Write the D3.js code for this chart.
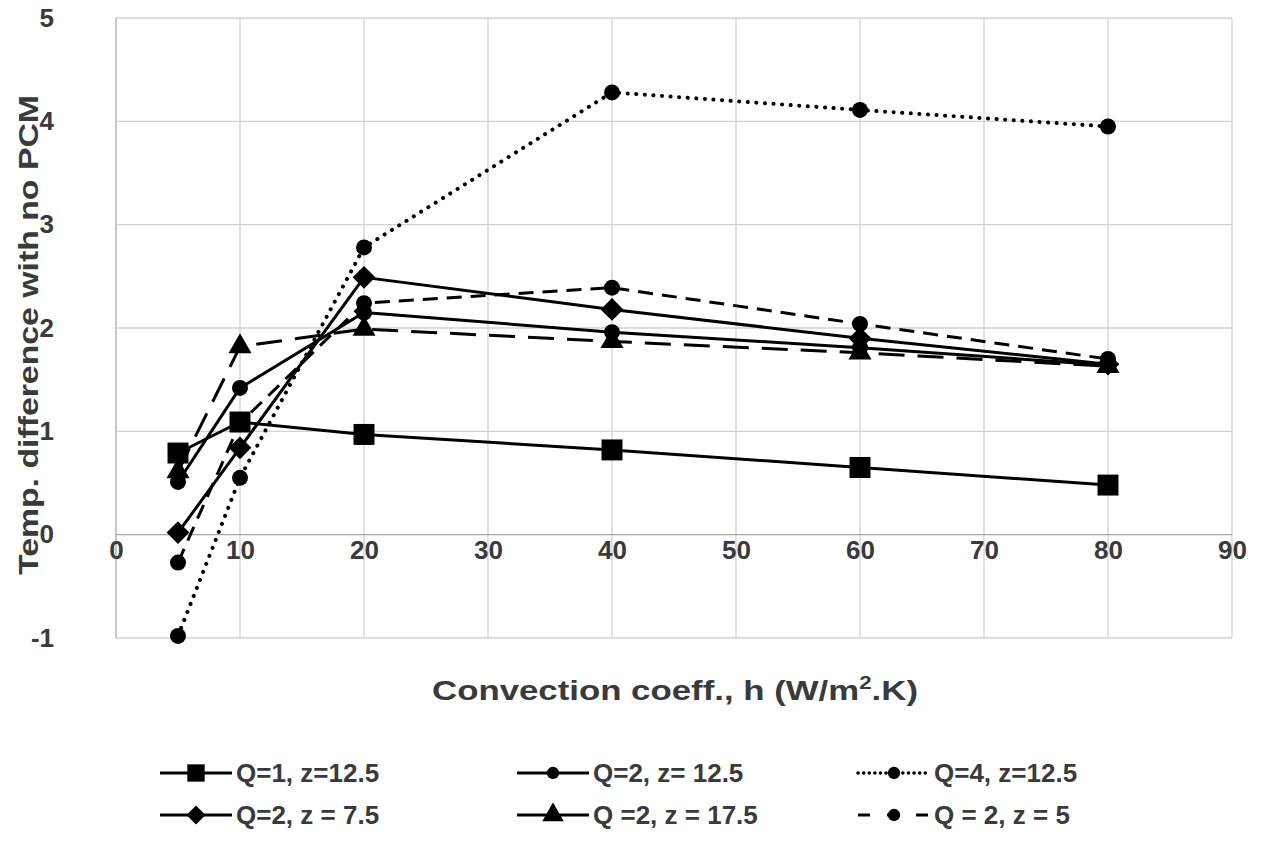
<!DOCTYPE html>
<html>
<head>
<meta charset="utf-8">
<script src="https://cdn.jsdelivr.net/npm/d3@7"></script>
<style>
  html, body { margin: 0; padding: 0; background: #ffffff; }
  svg { display: block; font-family: "Liberation Sans", Arial, sans-serif; }
</style>
</head>
<body>
<svg id="chart" width="1262" height="842"></svg>
<script>
// ---- data ----
const hValues = [5, 10, 20, 40, 60, 80];
const xTickValues = [0, 10, 20, 30, 40, 50, 60, 70, 80, 90];
const yTickValues = [-1, 0, 1, 2, 3, 4, 5];
const seriesNames = ["Q=1, z=12.5", "Q=2, z= 12.5", "Q=4, z=12.5", "Q=2, z = 7.5", "Q =2, z = 17.5", "Q = 2, z = 5"];
const q1z125 = [0.79, 1.09, 0.97, 0.82, 0.65, 0.48];
const q2z125 = [0.51, 1.42, 2.15, 1.96, 1.81, 1.64];
const q4z125 = [-0.98, 0.55, 2.78, 4.28, 4.11, 3.95];
const q2z75 = [0.02, 0.84, 2.49, 2.18, 1.90, 1.65];
const q2z175 = [0.61, 1.82, 1.99, 1.87, 1.76, 1.63];
const q2z5 = [-0.27, 1.08, 2.24, 2.39, 2.04, 1.70];
const xTitle = "Convection coeff., h (W/m";
const yTitle = "Temp. difference with no PCM";

(function () {
// ---- styles ----
const styles = [
  { values: q1z125, marker: "square", dash: null, legendDash: null },
  { values: q2z125, marker: "circle", dash: null, legendDash: null },
  { values: q4z125, marker: "circle", dash: "0.1 8.5", legendDash: "0.1 5.5", cap: "round", width: 4 },
  { values: q2z75, marker: "diamond", dash: null, legendDash: null },
  { values: q2z175, marker: "triangle", dash: "26 13", legendDash: null },
  { values: q2z5, marker: "circle", dash: "15 9", legendDash: "12 17" }
];

const svg = d3.select("#chart");
const pL = 116, pR = 1232, pT = 18, pB = 638;

const x = d3.scaleLinear().domain([0, 90]).range([pL, pR]);
const y = d3.scaleLinear().domain([-1, 5]).range([pB, pT]);

const gridColor = "#d2d2d2";
const textColor = "#3a3a3a";

// gridlines
svg.append("g").selectAll("line").data(xTickValues).join("line")
  .attr("x1", d => x(d)).attr("x2", d => x(d))
  .attr("y1", pT).attr("y2", pB)
  .attr("stroke", d => d === 0 ? "#a8a8a8" : gridColor).attr("stroke-width", 1.3);
svg.append("g").selectAll("line").data(yTickValues).join("line")
  .attr("x1", pL).attr("x2", pR)
  .attr("y1", d => y(d)).attr("y2", d => y(d))
  .attr("stroke", d => d === 0 ? "#a8a8a8" : gridColor).attr("stroke-width", 1.3);

// x tick labels at y=0 crossing
const xAxis = d3.axisBottom(x).tickValues(xTickValues).tickFormat(d => String(d)).tickSize(0).tickPadding(6);
const gx = svg.append("g").attr("transform", `translate(0,${y(0)})`).call(xAxis);
gx.select(".domain").remove();
gx.selectAll("text").attr("font-size", 26).attr("font-weight", "bold")
  .attr("fill", textColor).attr("font-family", "Liberation Sans, Arial, sans-serif");

const yAxis = d3.axisLeft(y).tickValues(yTickValues).tickFormat(d => String(d)).tickSize(0).tickPadding(0);
const gy = svg.append("g").attr("transform", `translate(${pL - 62},0)`).call(yAxis);
gy.select(".domain").remove();
gy.selectAll("text").attr("font-size", 26).attr("font-weight", "bold")
  .attr("fill", textColor).attr("font-family", "Liberation Sans, Arial, sans-serif");

// marker drawing
function marker(sel, type, size) {
  const sym = { square: d3.symbolSquare, circle: d3.symbolCircle, diamond: d3.symbolDiamond2, triangle: d3.symbolTriangle }[type];
  return sel.attr("d", d3.symbol().type(sym).size(size));
}
const markerSize = { square: 440, circle: 200, diamond: 330, triangle: 230 };

const line = d3.line().x((d, i) => x(hValues[i])).y(d => y(d));

styles.forEach(s => {
  const g = svg.append("g");
  g.append("path").datum(s.values)
    .attr("d", line).attr("fill", "none").attr("stroke", "#000")
    .attr("stroke-width", s.width || 3)
    .attr("stroke-linecap", s.cap || "butt")
    .attr("stroke-linejoin", "round")
    .attr("stroke-dasharray", s.dash);
  g.selectAll("path.m").data(s.values).join("path").attr("class", "m")
    .attr("transform", (d, i) => `translate(${x(hValues[i])},${y(d)})`)
    .call(sel => marker(sel, s.marker, markerSize[s.marker]))
    .attr("fill", "#000");
});

// axis titles
svg.append("text").text(yTitle)
  .attr("font-size", 28).attr("font-weight", "bold").attr("fill", textColor)
  .attr("text-anchor", "middle")
  .attr("transform", "translate(38,335) rotate(-90)")
  .attr("textLength", 480).attr("lengthAdjust", "spacingAndGlyphs");

const xt = svg.append("text")
  .attr("font-size", 28).attr("font-weight", "bold").attr("fill", textColor)
  .attr("text-anchor", "middle")
  .attr("x", 675).attr("y", 700)
  .attr("textLength", 486).attr("lengthAdjust", "spacingAndGlyphs");
xt.append("tspan").text(xTitle);
xt.append("tspan").text("2").attr("font-size", 18).attr("dy", -11);
xt.append("tspan").text(".K)").attr("dy", 11);

// legend
const legendPos = [
  { lx: 160, ty: 773 }, { lx: 517, ty: 773 }, { lx: 858, ty: 773 },
  { lx: 160, ty: 815 }, { lx: 517, ty: 815 }, { lx: 858, ty: 815 }
];
const legendSize = { square: 300, circle: 120, diamond: 230, triangle: 200 };
styles.forEach((s, i) => {
  const p = legendPos[i];
  const g = svg.append("g").attr("transform", `translate(${p.lx},${p.ty})`);
  g.append("line").attr("x1", 0).attr("x2", 72).attr("y1", 0).attr("y2", 0)
    .attr("stroke", "#000").attr("stroke-width", s.width ? 3.5 : 3)
    .attr("stroke-linecap", s.cap || "butt")
    .attr("stroke-dasharray", s.legendDash);
  g.append("path").attr("transform", "translate(36,0)")
    .call(sel => marker(sel, s.marker, legendSize[s.marker])).attr("fill", "#000");
  g.append("text").text(seriesNames[i]).attr("x", 76).attr("y", 0).attr("dy", "0.36em")
    .attr("font-size", 26).attr("font-weight", "bold").attr("fill", textColor);
});
})();
</script>
</body>
</html>
